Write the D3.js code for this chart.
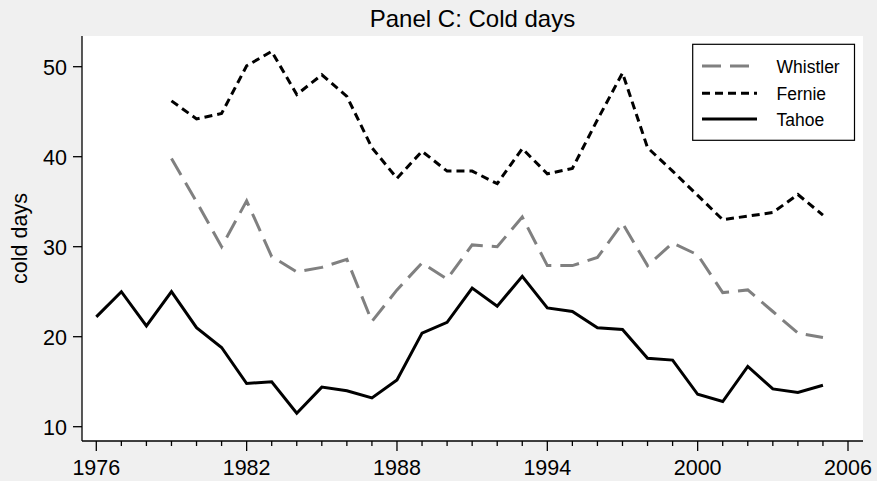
<!doctype html>
<html lang="en">

<head>
    <meta charset="utf-8">
    <script src="https://d3js.org/d3.v7.min.js"></script>

    <style type="text/css">
        body {
            padding: 0;
            margin: 0;
            background: #f0f0f0;
        }

        text {
            font-family: "Liberation Sans", Arial, Helvetica, sans-serif;
            fill: #000;
        }

        .axis path,
        .axis line {
            stroke: #000;
            stroke-width: 1.3px;
        }

        .series {
            fill: none;
            stroke-width: 3px;
            stroke-linejoin: miter;
        }
    </style>
</head>

<body>

    <svg id="chart" width="877" height="481"></svg>

    <script type="text/javascript">

        // data
        var tahoeYears = d3.range(1976, 2006);
        var tahoe = [22.2, 25.0, 21.2, 25.0, 21.0, 18.8, 14.8, 15.0, 11.5, 14.4,
            14.0, 13.2, 15.2, 20.4, 21.6, 25.4, 23.4, 26.7, 23.2, 22.8,
            21.0, 20.8, 17.6, 17.4, 13.6, 12.8, 16.7, 14.2, 13.8, 14.6];

        var skiYears = d3.range(1979, 2006);
        var whistler = [39.8, 35.0, 30.0, 35.1, 28.9, 27.2, 27.7, 28.6, 21.7, 25.2,
            28.2, 26.4, 30.2, 30.0, 33.3, 27.9, 27.9, 28.8, 32.6, 27.9,
            30.4, 29.1, 24.9, 25.2, 22.8, 20.4, 19.9];
        var fernie = [46.2, 44.2, 44.8, 50.1, 51.7, 46.9, 49.1, 46.7, 41.0, 37.6,
            40.6, 38.4, 38.4, 37.0, 40.9, 38.1, 38.7, 44.1, 49.3, 41.0,
            38.4, 35.7, 33.0, 33.4, 33.8, 35.8, 33.5];

        var xTicks = [1976, 1982, 1988, 1994, 2000, 2006];
        var yTicks = [10, 20, 30, 40, 50];
        var legendNames = ["Whistler", "Fernie", "Tahoe"];

        var width = 877,
            height = 481,
            plotLeft = 82, plotRight = 863,
            plotTop = 36, plotBottom = 441;

        var svg = d3.select("#chart");

        var x = d3.scaleLinear()
            .domain([1976, 2006])
            .range([96.3, 848]);

        var y = d3.scaleLinear()
            .domain([10, 50])
            .range([426.7, 66.7]);

        // white plot region
        svg.append("rect")
            .attr("x", plotLeft)
            .attr("y", plotTop)
            .attr("width", plotRight - plotLeft)
            .attr("height", plotBottom - plotTop)
            .attr("fill", "#fff");

        // title
        svg.append("text")
            .attr("x", (plotLeft + plotRight) / 2)
            .attr("y", 27)
            .attr("text-anchor", "middle")
            .style("font-size", "24px")
            .text("Panel C: Cold days");

        // x axis, major + minor ticks
        var xAxis = svg.append("g")
            .attr("class", "axis")
            .attr("transform", "translate(0," + plotBottom + ")");

        xAxis.append("line")
            .attr("x1", plotLeft).attr("x2", plotRight);

        xAxis.selectAll("line.minor")
            .data(d3.range(1976, 2007))
            .enter().append("line")
            .attr("class", "minor")
            .attr("x1", function (d) { return x(d); })
            .attr("x2", function (d) { return x(d); })
            .attr("y1", 0)
            .attr("y2", function (d) { return xTicks.indexOf(d) >= 0 ? 10 : 5; });

        xAxis.selectAll("text")
            .data(xTicks)
            .enter().append("text")
            .attr("x", function (d) { return x(d); })
            .attr("y", 34)
            .attr("text-anchor", "middle")
            .style("font-size", "21.5px")
            .text(function (d) { return d; });

        // y axis
        var yAxis = svg.append("g")
            .attr("class", "axis")
            .attr("transform", "translate(" + plotLeft + ",0)");

        yAxis.append("line")
            .attr("y1", plotTop).attr("y2", plotBottom);

        yAxis.selectAll("line.tick")
            .data(yTicks)
            .enter().append("line")
            .attr("class", "tick")
            .attr("x1", -9).attr("x2", 0)
            .attr("y1", function (d) { return y(d); })
            .attr("y2", function (d) { return y(d); });

        yAxis.selectAll("text")
            .data(yTicks)
            .enter().append("text")
            .attr("x", -15)
            .attr("y", function (d) { return y(d) + 8; })
            .attr("text-anchor", "end")
            .style("font-size", "21.5px")
            .text(function (d) { return d; });

        svg.append("text")
            .attr("transform", "translate(27," + ((plotTop + plotBottom) / 2) + ") rotate(-90)")
            .attr("text-anchor", "middle")
            .style("font-size", "21.5px")
            .text("cold days");

        // series
        var styles = [
            { color: "#808080", dash: "19,9" },
            { color: "#000", dash: "8,5" },
            { color: "#000", dash: null }
        ];

        var seriesData = [
            skiYears.map(function (yr, i) { return [yr, whistler[i]]; }),
            skiYears.map(function (yr, i) { return [yr, fernie[i]]; }),
            tahoeYears.map(function (yr, i) { return [yr, tahoe[i]]; })
        ];

        var line = d3.line()
            .x(function (d) { return x(d[0]); })
            .y(function (d) { return y(d[1]); });

        svg.selectAll("path.series")
            .data(seriesData)
            .enter().append("path")
            .attr("class", "series")
            .attr("d", line)
            .attr("stroke", function (d, i) { return styles[i].color; })
            .attr("stroke-dasharray", function (d, i) { return styles[i].dash; });

        // legend
        var legend = svg.append("g");

        legend.append("rect")
            .attr("x", 692.7)
            .attr("y", 44.3)
            .attr("width", 161.8)
            .attr("height", 96)
            .attr("fill", "#fff")
            .attr("stroke", "#000")
            .attr("stroke-width", 1.2);

        var rowY = [66, 93.3, 119];

        legend.selectAll("line")
            .data(legendNames)
            .enter().append("line")
            .attr("x1", 702).attr("x2", 757)
            .attr("y1", function (d, i) { return rowY[i]; })
            .attr("y2", function (d, i) { return rowY[i]; })
            .attr("stroke", function (d, i) { return styles[i].color; })
            .attr("stroke-width", 3)
            .attr("stroke-dasharray", function (d, i) { return styles[i].dash; });

        legend.selectAll("text")
            .data(legendNames)
            .enter().append("text")
            .attr("x", 776.5)
            .attr("y", function (d, i) { return rowY[i] + 6.5; })
            .style("font-size", "17.5px")
            .text(function (d) { return d; });

    </script>

</body>

</html>
